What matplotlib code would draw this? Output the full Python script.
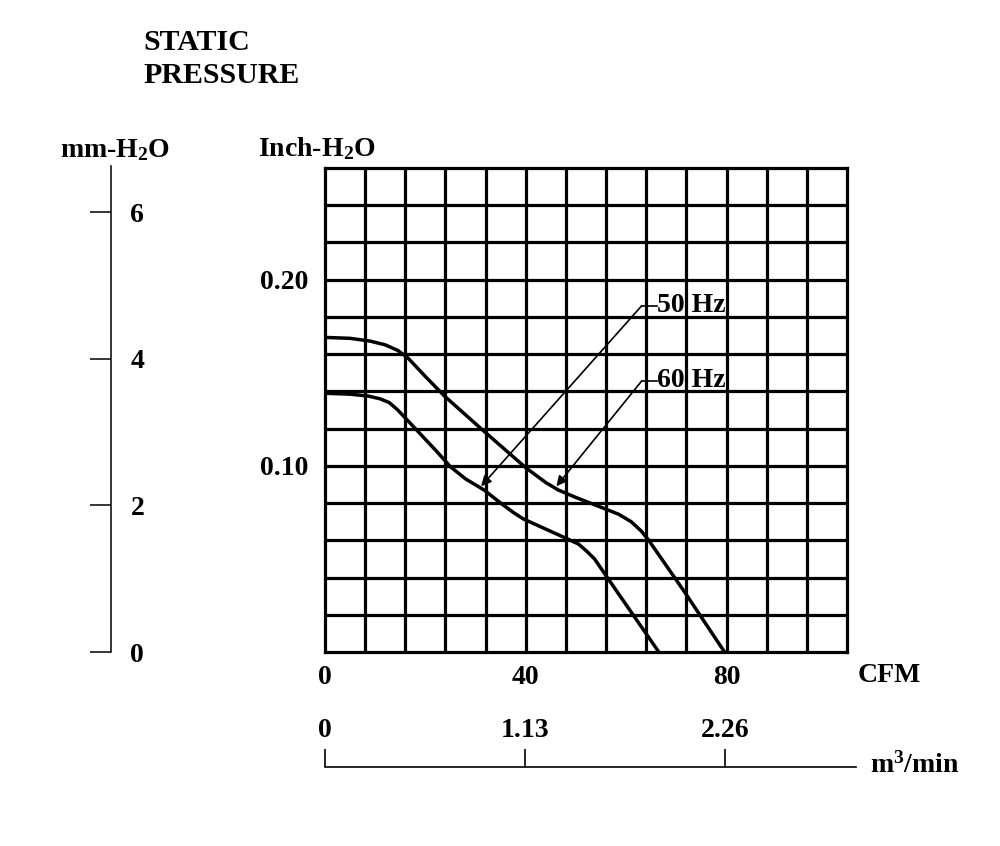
import numpy as np
import matplotlib
matplotlib.use("Agg")
import matplotlib.pyplot as plt

plt.rcParams['font.family'] = ['Liberation Serif', 'DejaVu Serif']
plt.rcParams['font.weight'] = 'bold'
plt.rcParams['mathtext.fontset'] = 'custom'
plt.rcParams['mathtext.rm'] = 'Liberation Serif:bold'
plt.rcParams['mathtext.it'] = 'Liberation Serif:bold'
plt.rcParams['mathtext.bf'] = 'Liberation Serif:bold'

# fan curves: airflow (CFM) vs static pressure (inch H2O)
cfm_50 = [0, 5, 8.6, 11, 12.8, 14.5, 16.6, 22, 25, 28, 31.7, 35, 37.5, 39.5,
          44, 48.1, 50.5, 52.2, 53.7, 56.5, 66.5]
prs_50 = [0.139, 0.1385, 0.1375, 0.136, 0.134, 0.130, 0.124, 0.1085, 0.0995, 0.093,
          0.087, 0.080, 0.075, 0.0715, 0.066, 0.061, 0.058, 0.054, 0.050, 0.039, 0.0]
cfm_60 = [0, 5, 9, 12, 14.5, 16.5, 20, 23.8, 31.5, 40, 44, 46.5, 50, 55.7,
          58.5, 61, 63, 64.5, 71.7, 79.6]
prs_60 = [0.169, 0.1685, 0.167, 0.165, 0.162, 0.158, 0.148, 0.1375, 0.119,
          0.099, 0.091, 0.087, 0.083, 0.077, 0.074, 0.070, 0.065, 0.060, 0.032, 0.0]

# annotation: label, arrow tip (cfm, inch), leader start
labels = ['50 Hz', '60 Hz']
tips = [(31.1, 0.089), (46.1, 0.089)]
starts = [(63.1, 0.186), (63.1, 0.1456)]

cfm_ticks = [0, 40, 80]
inch_ticks = [0.10, 0.20]
mm_ticks = [0, 2, 4, 6]
m3_ticks = [0, 1.13, 2.26]
m3_labels = ['0', '1.13', '2.26']

W, H = 1000, 846
fig = plt.figure(figsize=(W / 100, H / 100), dpi=100)

def px_box(x0, y0, x1, y1):
    return [x0 / W, 1 - y1 / H, (x1 - x0) / W, (y1 - y0) / H]

FS = 20
lw_grid = 2.3

# main grid axes
ax = fig.add_axes(px_box(325, 168, 847, 652))
ax.set_xlim(0, 104)
ax.set_ylim(0, 0.26)
for x in np.arange(8, 104, 8):
    ax.axvline(x, color='black', lw=lw_grid, zorder=1)
for y in np.arange(0.02, 0.26, 0.02):
    ax.axhline(y, color='black', lw=lw_grid, zorder=1)
for s in ax.spines.values():
    s.set_linewidth(lw_grid)
ax.set_xticks(cfm_ticks)
ax.set_xticklabels([str(v) for v in cfm_ticks], fontsize=FS, fontweight='bold')
ax.set_yticks(inch_ticks)
ax.set_yticklabels(['%.2f' % v for v in inch_ticks], fontsize=FS, fontweight='bold')
ax.tick_params(axis='x', length=0, pad=9)
ax.tick_params(axis='y', length=0, pad=12)

ax.plot(cfm_50, prs_50, color='black', lw=2.5, zorder=3)
ax.plot(cfm_60, prs_60, color='black', lw=2.5, zorder=3)

for lab, tip, st in zip(labels, tips, starts):
    ax.plot([st[0], st[0] + 3], [st[1], st[1]], color='black', lw=1.2, zorder=4)
    ax.annotate('', xy=tip, xytext=st,
                arrowprops=dict(arrowstyle='-|>', color='black', lw=1.2,
                                mutation_scale=15, shrinkA=0, shrinkB=0),
                zorder=4)
    ax.text(st[0] + 3.1, st[1], lab, fontsize=FS, fontweight='bold',
            ha='left', va='center', zorder=5)

fig.text(858 / W, 1 - 675 / H, 'CFM', fontsize=FS, fontweight='bold',
         ha='left', va='center')
fig.text(258 / W, 1 - 149 / H, 'Inch-H$_2$O', fontsize=FS, fontweight='bold',
         ha='left', va='center')

# mm-H2O scale on the left
axm = fig.add_axes(px_box(40, 168, 111, 652))
axm.set_ylim(0, 0.26 * 25.4)
axm.set_xticks([])
for k in ['left', 'top', 'bottom']:
    axm.spines[k].set_visible(False)
axm.spines['right'].set_linewidth(1.1)
axm.spines['right'].set_bounds(0, 0.26 * 25.4 + 0.03)
axm.patch.set_visible(False)
axm.yaxis.set_ticks_position('right')
axm.set_yticks(mm_ticks)
axm.set_yticklabels([str(v) for v in mm_ticks], fontsize=FS, fontweight='bold')
axm.tick_params(axis='y', direction='in', length=15, width=1.1, pad=14)
fig.text(115 / W, 1 - 150 / H, 'mm-H$_2$O', fontsize=FS, fontweight='bold',
         ha='center', va='center')

# m3/min scale at the bottom
ax3 = fig.add_axes(px_box(325, 767, 856, 800))
ax3.set_xlim(0, 106 * 0.028317)
ax3.set_yticks([])
for k in ['left', 'right', 'bottom']:
    ax3.spines[k].set_visible(False)
ax3.spines['top'].set_linewidth(1.2)
ax3.patch.set_visible(False)
ax3.xaxis.set_ticks_position('top')
ax3.set_xticks(m3_ticks)
ax3.set_xticklabels(m3_labels, fontsize=FS, fontweight='bold')
ax3.tick_params(axis='x', direction='out', length=13, width=1.2, pad=4)
fig.text(870 / W, 1 - 765 / H, 'm$^3$/min', fontsize=FS, fontweight='bold',
         ha='left', va='center')

fig.text(143 / W, 1 - 59 / H, 'STATIC\nPRESSURE', fontsize=21.5, fontweight='bold',
         ha='left', va='center', linespacing=1.3)

fig.savefig('out.png', dpi=100)
